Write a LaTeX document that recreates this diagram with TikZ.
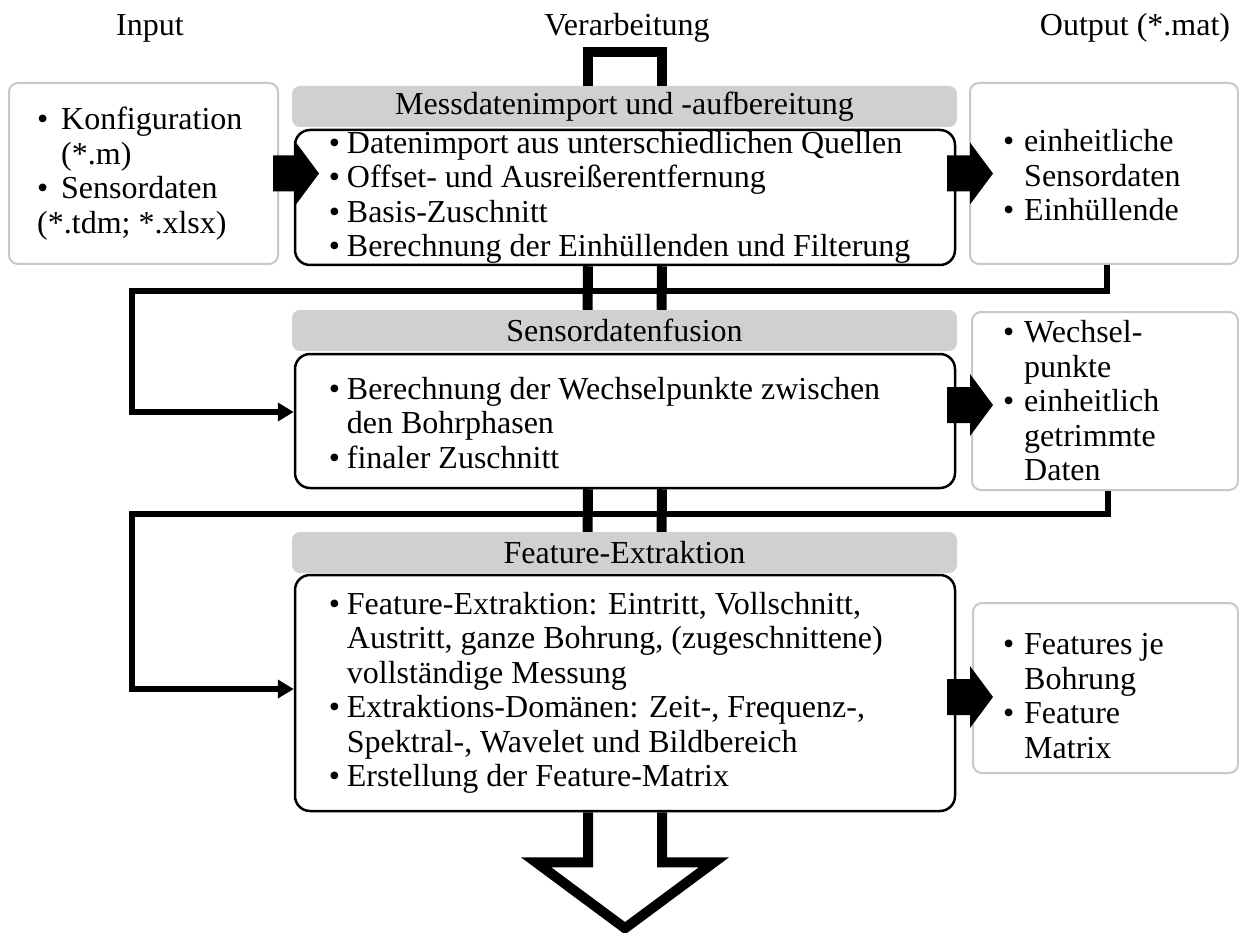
\documentclass[tikz,border=0pt]{standalone}
\usepackage{fontspec}
\setmainfont{Liberation Serif}
\usetikzlibrary{arrows.meta,calc}
\definecolor{boxgray}{RGB}{200,200,200}
\definecolor{headgray}{RGB}{208,208,208}
% bullet with hanging indent, and the matching indent for continuation lines
\newcommand\bul[1][18pt]{\makebox[#1][l]{\textbullet}}
\newcommand\ind[1][18pt]{\hspace*{#1}}
\begin{document}
\begin{tikzpicture}[x=1pt,y=-1pt,
  txt/.style={font=\fontsize{32}{34.5}\selectfont, inner sep=0pt},
  list/.style={txt, align=left, anchor=west},
  procbox/.style={draw=black, line width=2.5pt, rounded corners=15pt, inner sep=0pt},
  iobox/.style={draw=boxgray, line width=2pt, rounded corners=9pt, inner sep=0pt},
  headbar/.style={txt, fill=headgray, rounded corners=8pt, minimum width=665pt, minimum height=41pt},
  flow/.style={line width=10pt, line join=miter},
  loopline/.style={line width=6pt, line join=miter, -{Triangle[length=16pt,width=18pt]}},
  blockarrow/.style={fill=black}
]
\useasboundingbox (0,0) rectangle (1239,933);

% column titles
\node[txt] (tIn)  at (150,28)  {Input};
\node[txt] (tPro) at (627,28)  {Verarbeitung};
\node[txt] (tOut) at (1135,28) {Output (*.mat)};

% input
\node[iobox, minimum width=269pt, minimum height=181pt] (in) at (143.5,173.5) {};
\node[list] (inT) at ($(in.west)+(29,0)$)
  {\bul[24pt]Konfiguration\\\ind[24pt](*.m)\\\bul[24pt]Sensordaten\\(*.tdm; *.xlsx)};

% stage 1
\node[headbar] (head1) at (624.5,106.5) {Messdatenimport und -aufbereitung};
\node[procbox, minimum width=660pt, minimum height=135pt] (box1) at (625,197.5) {};
\node[list] (box1T) at ($(box1.west)+(35,0)$)
  {\bul Datenimport aus unterschiedlichen Quellen\\
   \bul Offset- und Ausreißerentfernung\\
   \bul Basis-Zuschnitt\\
   \bul Berechnung der Einhüllenden und Filterung};
\node[iobox, minimum width=268pt, minimum height=181pt] (out1) at (1104,173.5) {};
\node[list] (out1T) at ($(out1.west)+(34,2)$)
  {\bul[21pt]einheitliche\\\ind[21pt]Sensordaten\\\bul[21pt]Einhüllende};

% stage 2
\node[headbar] (head2) at (624.5,330.5) {Sensordatenfusion};
\node[procbox, minimum width=660pt, minimum height=134pt] (box2) at (625,421) {};
\node[list] (box2T) at ($(box2.west)+(35,2)$)
  {\bul Berechnung der Wechselpunkte zwischen\\
   \ind den Bohrphasen\\
   \bul finaler Zuschnitt};
\node[iobox, minimum width=266pt, minimum height=178pt] (out2) at (1105,401) {};
\node[list] (out2T) at ($(out2.west)+(32,0)$)
  {\bul[21pt]Wechsel-\\\ind[21pt]punkte\\\bul[21pt]einheitlich\\\ind[21pt]getrimmte\\\ind[21pt]Daten};

% stage 3
\node[headbar] (head3) at (624.5,552.5) {Feature-Extraktion};
\node[procbox, minimum width=660pt, minimum height=236pt] (box3) at (625,693) {};
\node[list] (box3T) at ($(box3.west)+(35,0)$)
  {\bul Feature-Extraktion: Eintritt, Vollschnitt,\\
   \ind Austritt, ganze Bohrung, (zugeschnittene)\\
   \ind vollständige Messung\\
   \bul Extraktions-Domänen: Zeit-, Frequenz-,\\
   \ind Spektral-, Wavelet und Bildbereich\\
   \bul Erstellung der Feature-Matrix};
\node[iobox, minimum width=265pt, minimum height=170pt] (out3) at (1105.5,688) {};
\node[list] (out3T) at ($(out3.west)+(31,8)$)
  {\bul[21pt]Features je\\\ind[21pt]Bohrung\\\bul[21pt]Feature\\\ind[21pt]Matrix};

% processing channel through the stages
\draw[flow] ([xshift=-37pt]head1.north) -- ++(0,-34) -| ([xshift=37pt]head1.north);
\draw[flow] ([xshift=-37pt]box1.south) -- ([xshift=-37pt]head2.north);
\draw[flow] ([xshift=37pt]box1.south)  -- ([xshift=37pt]head2.north);
\draw[flow] ([xshift=-37pt]box2.south) -- ([xshift=-37pt]head3.north);
\draw[flow] ([xshift=37pt]box2.south)  -- ([xshift=37pt]head3.north);
\draw[flow] ([xshift=-37pt]box3.south) -- ++(0,50) -- ++(-52,0) -- ++(89,66)
  -- ++(89,-66) -- ++(-52,0) -- ([xshift=37pt]box3.south);

% feedback of outputs into the next stage
\coordinate (loopA) at (132,291);
\coordinate (loopB) at (132,514);
\draw[loopline] ([xshift=3pt]out1.south) |- (loopA) |- ([yshift=9pt]box2.west);
\draw[loopline] ([xshift=3pt]out2.south) |- (loopB) |- ([yshift=4pt]box3.west);

% solid block arrows between input, stages and outputs
\newcommand\fatarrow[1]{\fill[blockarrow] ($(#1)+(0,-18)$) -- ++(23,0) -- ++(0,-13)
  -- ++(23,31) -- ++(-23,31) -- ++(0,-13) -- ++(-23,0) -- cycle;}
\fatarrow{$(in.east)+(-6,0)$}
\fatarrow{$(out1.west)+(-22,0)$}
\fatarrow{$(out2.west)+(-24,4)$}
\fatarrow{$(out3.west)+(-25,9)$}
\end{tikzpicture}
\end{document}
